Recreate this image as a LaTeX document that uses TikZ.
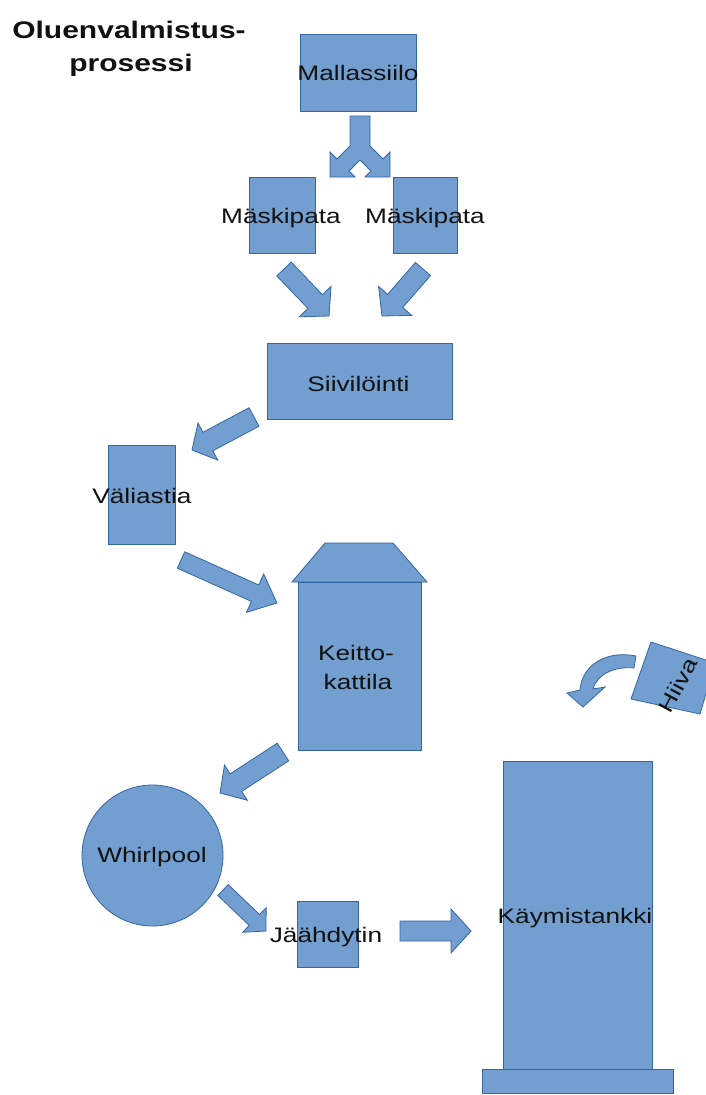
\documentclass[tikz,border=0pt]{standalone}
\usepackage{fontspec}
\newfontfamily\labfont[FakeStretch=1.25]{Liberation Sans}
\usetikzlibrary{calc}
\definecolor{blu}{HTML}{729FCF}
\definecolor{bord}{HTML}{3465A4}
\definecolor{ink}{HTML}{111111}
\tikzset{
 shp/.style={draw=bord, fill=blu, line width=0.8pt, line join=miter},
 boxn/.style={shp, rectangle, inner sep=0pt, outer sep=0pt},
 lab/.style={font=\labfont\fontsize{21}{28}\selectfont, inner sep=0pt, anchor=base, text=ink},
 ttl/.style={font=\labfont\bfseries\fontsize{24}{32}\selectfont, inner sep=0pt, anchor=base, text=ink},
}
\newcommand\blockarr[5]{%
  \coordinate (hb) at ($(#2)!#5!(#1)$);
  \filldraw[shp] ($(#1)!#3!90:(#2)$) -- ($(hb)!#3!-90:(#1)$) -- ($(hb)!#4!-90:(#1)$) -- (#2) -- ($(hb)!#4!90:(#1)$) -- ($(hb)!#3!90:(#1)$) -- ($(#1)!#3!-90:(#2)$) -- cycle;}
\begin{document}
\begin{tikzpicture}[x=1pt,y=-1pt]
\useasboundingbox (0,0) rectangle (705,1095);
\fill[white] (0,0) rectangle (705,1095);

% title
\node[ttl] (title1) at (129,38) {Oluenvalmistus-};
\node[ttl] (title2) at (131,71) {prosessi};

% Mallassiilo
\node[boxn, minimum width=116pt, minimum height=77pt] (malla) at (358,72.5) {};
\node[lab] (tmalla) at (358,80) {Mallassiilo};

% split arrow
\filldraw[shp] (350,116) -- (370,116) -- (370,146) -- (383,159) -- (390,152) -- (390,177) -- (365,177) -- (371,171) -- (360,160) -- (349,171) -- (355,177) -- (330,177) -- (330,152) -- (337,159) -- (350,146) -- cycle;

% Maskipata
\node[boxn, minimum width=66pt, minimum height=76pt] (mask1) at (282,215) {};
\node[lab] (tmask1) at (281,223) {Mäskipata};
\node[boxn, minimum width=64pt, minimum height=76pt] (mask2) at (425,215) {};
\node[lab] (tmask2) at (425,223) {Mäskipata};

% arrows to Siivilointi
\coordinate (a1s) at (284,269); \coordinate (a1e) at (329,316);
\blockarr{a1s}{a1e}{10pt}{22pt}{20pt}
\coordinate (a2s) at (423,269); \coordinate (a2e) at (382,316);
\blockarr{a2s}{a2e}{10pt}{22pt}{20pt}

% Siivilointi
\node[boxn, minimum width=185pt, minimum height=76pt] (siiv) at (359.5,381) {};
\node[lab] (tsiiv) at (358.5,391) {Siivilöinti};

\coordinate (a3s) at (254,417); \coordinate (a3e) at (192,450);
\blockarr{a3s}{a3e}{10.5pt}{21pt}{18pt}

% Valiastia
\node[boxn, minimum width=67pt, minimum height=99pt] (vali) at (141.5,494.5) {};
\node[lab] (tvali) at (142,503) {Väliastia};

\coordinate (a4s) at (181,560); \coordinate (a4e) at (277,603);
\blockarr{a4s}{a4e}{9pt}{21pt}{24pt}

% Keittokattila
\filldraw[shp] (292,582) -- (325,543) -- (393,543) -- (427,582) -- cycle;
\node[boxn, minimum width=123pt, minimum height=168pt] (keitto) at (359.5,666) {};
\node[lab] (tkeitto1) at (356,660) {Keitto-};
\node[lab] (tkeitto2) at (358,689) {kattila};

\coordinate (a5s) at (283,752); \coordinate (a5e) at (220,793);
\blockarr{a5s}{a5e}{10.5pt}{21pt}{19pt}

% Whirlpool
\node[shp, circle, minimum size=141pt, inner sep=0pt] (whirl) at (152.5,855.5) {};
\node[lab] (twhirl) at (152,862) {Whirlpool};

\coordinate (a6s) at (223,890); \coordinate (a6e) at (266,931);
\blockarr{a6s}{a6e}{7.5pt}{17pt}{16pt}

% Jaahdytin
\node[boxn, minimum width=61pt, minimum height=66pt] (jaah) at (327.5,934) {};
\node[lab] (tjaah) at (326,942) {Jäähdytin};

\coordinate (a7s) at (400,931); \coordinate (a7e) at (471,931);
\blockarr{a7s}{a7e}{10pt}{22pt}{20pt}

% Kaymistankki
\node[boxn, minimum width=191pt, minimum height=24pt] (plate) at (577.5,1081) {};
\node[boxn, minimum width=149pt, minimum height=308pt] (tank) at (577.5,915) {};
\node[lab] (ttank) at (575,923) {Käymistankki};

% Hiiva
\filldraw[shp] (651,642) -- (715,663) -- (700,714) -- (631,699) -- cycle;
\node[lab, anchor=center, rotate=62] (thiiva) at (678,685) {Hiiva};
\filldraw[shp] (636,656) .. controls (606,650) and (582,665) .. (580,690) -- (567,693) -- (583,707) -- (605,687) -- (593,689) .. controls (597,674) and (615,666) .. (634,668) -- cycle;
\end{tikzpicture}
\end{document}
